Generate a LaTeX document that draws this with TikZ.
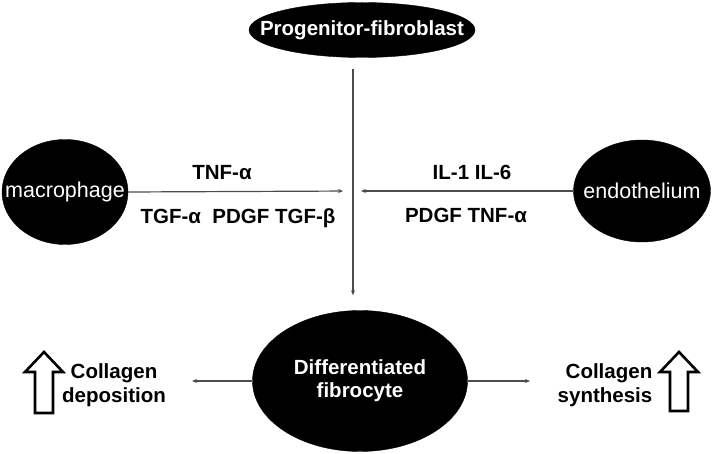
\documentclass[tikz,border=0pt]{standalone}
\usepackage{fontspec}
\setmainfont{Liberation Sans}
\usetikzlibrary{shapes.geometric,arrows.meta}
\tikzset{
  cell/.style={draw=black,shape=ellipse,fill=black,inner sep=0pt},
  celltext/.style={text=white,inner sep=0pt,align=center,font=\fontsize{20.5}{23}\selectfont\bfseries},
  lbl/.style={font=\fontsize{20.5}{24}\selectfont\bfseries,inner sep=0pt,align=center},
  link/.style={draw=black!70,line width=1.2pt,-{Stealth[length=5pt,width=4pt]}},
  uparrow/.style={draw=black,line width=2.6pt,fill=white,line join=miter}
}
\begin{document}
\begin{tikzpicture}[x=1pt,y=-1pt]
\useasboundingbox (0,0) rectangle (716,454);
% cells
\node[cell,minimum width=226pt,minimum height=55pt,name=prog,label={[celltext]center:Progenitor-fibroblast}] at (362,30){};
\node[cell,minimum width=126pt,minimum height=105pt,name=mac,label={[celltext,font=\fontsize{21.5}{24}\selectfont]center:macrophage}] at (65,192){};
\node[cell,minimum width=137pt,minimum height=102pt,name=endo,label={[celltext,font=\fontsize{21.5}{24}\selectfont]center:endothelium}] at (642,191){};
\node[cell,minimum width=215pt,minimum height=141pt,name=fib,label={[celltext]center:Differentiated\\fibrocyte}] at (360,381){};
\coordinate (hub) at (353,191);
\coordinate (tipL) at (192,381);
\coordinate (tipR) at (530,381);
% signals
\draw[link, shorten <= 11pt, shorten >= 15pt] (prog.south -| hub)--(fib.north -| hub);
\draw[link, shorten >= 10pt] (mac.east)--(hub);
\draw[link, shorten >= 8pt] (endo.west)--(hub);
\draw[link] (fib.west)--(tipL);
\draw[link] (fib.east)--(tipR);
\node[lbl,name=tnfa] at (222,173){TNF-α};
\node[lbl,name=tgf] at (238,218){TGF-α\ \ PDGF TGF-β};
\node[lbl,name=il] at (472,172){IL-1 IL-6};
\node[lbl,name=pdgf] at (466,215){PDGF TNF-α};
% outcomes
\node[lbl,name=dep] at (114,385){Collagen\\deposition};
\node[lbl,align=right,name=syn] at (605,385){Collagen\\synthesis};
\draw[uparrow] (44,352) -- ++(19,20) -- ++(-10,0) -- ++(0,41) -- ++(-18,0) -- ++(0,-41) -- ++(-10,0) -- cycle;
\draw[uparrow] (679,352) -- ++(19,20) -- ++(-10,0) -- ++(0,39) -- ++(-18,0) -- ++(0,-39) -- ++(-10,0) -- cycle;
\end{tikzpicture}
\end{document}
